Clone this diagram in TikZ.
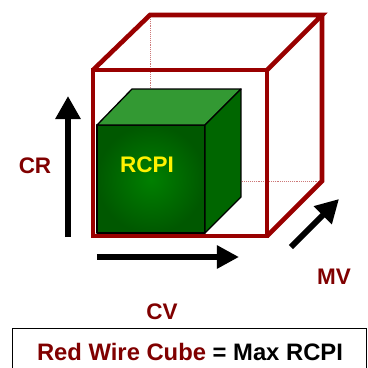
\documentclass[tikz,border=0pt]{standalone}
\usepackage{fontspec}
\setmainfont{Liberation Sans}
\usetikzlibrary{arrows.meta}
\definecolor{wire}{RGB}{153,0,0}
\definecolor{labred}{RGB}{128,0,0}
\definecolor{gfront}{RGB}{0,128,0}
\definecolor{gdark}{RGB}{0,88,0}
\definecolor{gtop}{RGB}{51,153,51}
\definecolor{gside}{RGB}{0,102,0}
\definecolor{hidden}{RGB}{205,120,120}
\tikzset{
  wireline/.style={draw=wire, line width=4.6pt, line join=miter},
  hiddenline/.style={draw=hidden, line width=0.9pt, densely dotted},
  facebox/.style={draw=black, line width=1.3pt, line join=round},
  bigarrow/.style={draw=black, line width=6pt, -{Triangle[length=23pt,width=24pt]}},
  lab/.style={font=\fontsize{22.5}{24}\selectfont\bfseries, text=labred, inner sep=0pt},
}
\begin{document}
\begin{tikzpicture}[x=1pt,y=-1pt]
\useasboundingbox (0,0) rectangle (368,368);
\clip (0,0) rectangle (368,368);
% red wire cube corners
\coordinate (F1) at (93,70);
\coordinate (F2) at (267,70);
\coordinate (F3) at (267,236);
\coordinate (F4) at (93,236);
\coordinate (B1) at (150,15);
\coordinate (B2) at (322,15);
\coordinate (B3) at (322,181);
\coordinate (B4) at (150,181);
% hidden edges
\draw[hiddenline] (B1) -- (B4) -- (B3);
\draw[hiddenline] (B4) -- (F4);
% visible wire edges
\draw[wireline] (F1) -- (B1) -- (B2) -- (F2);
\draw[wireline] (B2) -- (B3) -- (F3);
\draw[wireline] (F1) -- (F2) -- (F3) -- (F4) -- cycle;
% green cube
\coordinate (G1) at (97,125);
\coordinate (G2) at (205,125);
\coordinate (G3) at (205,233);
\coordinate (G4) at (97,233);
\coordinate (H1) at (132,89);
\coordinate (H2) at (241,89);
\coordinate (H3) at (241,197);
\shade[inner color=gfront, outer color=gdark] (G1) rectangle (G3);
\draw[facebox] (G1) rectangle (G3);
\fill[gtop] (G1) -- (H1) -- (H2) -- (G2) -- cycle;
\draw[facebox] (G1) -- (H1) -- (H2) -- (G2) -- cycle;
\fill[gside] (G2) -- (H2) -- (H3) -- (G3) -- cycle;
\draw[facebox] (G2) -- (H2) -- (H3) -- (G3) -- cycle;
\node[font=\fontsize{22.5}{24}\selectfont\bfseries, text=yellow, inner sep=0pt] (rcpi) at (147,165) {RCPI};
% axis arrows
\coordinate (crs) at (68,237);
\coordinate (cre) at (68,96);
\draw[bigarrow] (crs) -- (cre);
\coordinate (cvs) at (97,257);
\coordinate (cve) at (239,257);
\draw[bigarrow, -{Triangle[length=22pt,width=22pt]}] (cvs) -- (cve);
\coordinate (mvs) at (291,247);
\coordinate (mve) at (339,199);
\draw[bigarrow] (mvs) -- (mve);
% labels
\node[lab] (cr) at (35,166) {CR};
\node[lab] (cv) at (162,312) {CV};
\node[lab] (mv) at (334,277) {MV};
% note box
\node[draw=black, line width=1.3pt, minimum width=354pt, minimum height=50pt, inner sep=0pt, anchor=north west] (note) at (12,328) {};
\node[font=\fontsize{23.8}{25}\selectfont\bfseries, inner sep=0pt] (notetext) at (190,352) {\textcolor{labred}{Red Wire Cube} = Max RCPI};
\end{tikzpicture}
\end{document}
